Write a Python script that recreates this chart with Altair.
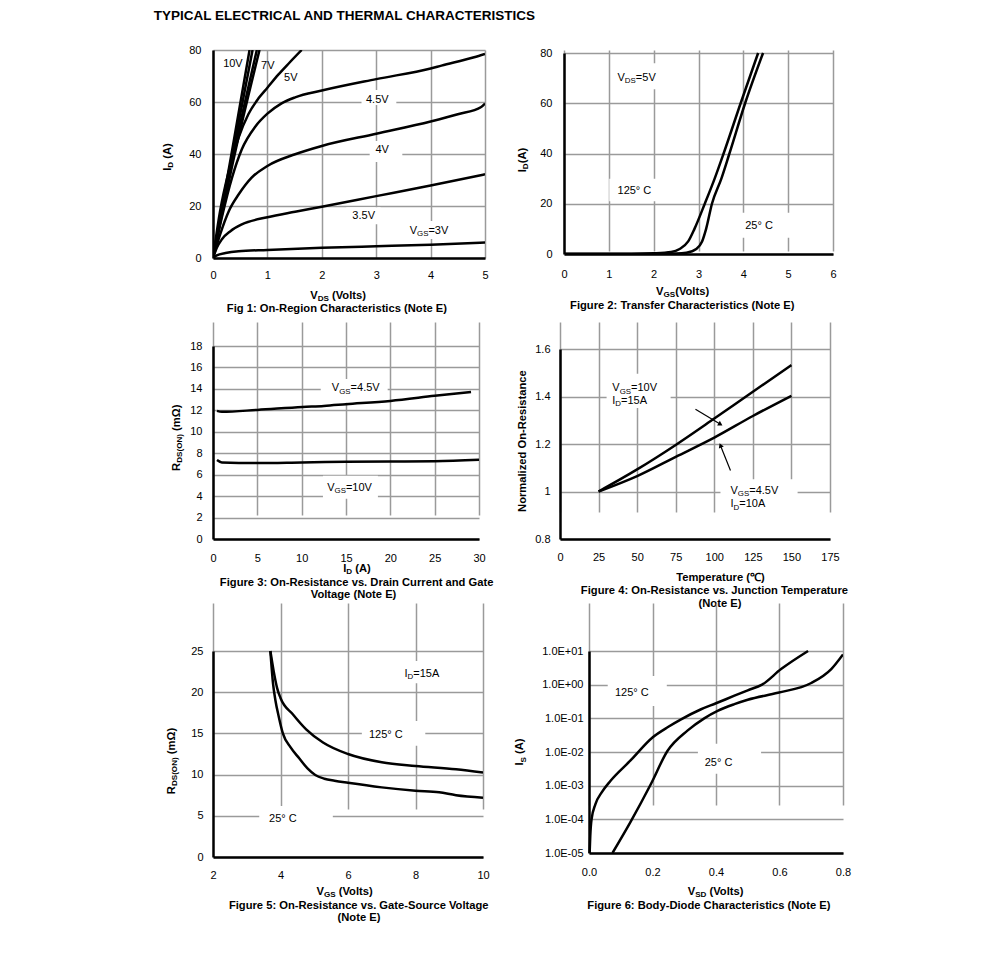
import math
import altair as alt
import pandas as pd

FONT = "Liberation Sans"
GRID = "#9a9a9a"

# ---------------- data ----------------
# Fig 1: On-region characteristics (VDS volts, ID amps)
f1_v_10v = [0, 0.34, 0.672]
f1_i_10v = [0, 40, 80]
f1_v_8v = [0, 0.36, 0.727]
f1_i_8v = [0, 40, 80]
f1_v_7v = [0, 0.38, 0.806]
f1_i_7v = [0, 40, 80]
f1_v_6v = [0, 0.40, 0.855]
f1_i_6v = [0, 40, 80]
f1_v_5v = [0, 0.13, 0.29, 0.47, 0.65, 0.84, 1.0, 1.2, 1.4, 1.63]
f1_i_5v = [0, 18, 33.4, 46.3, 55.3, 61.5, 65.5, 70.5, 75, 80]
f1_v_45v = [0, 0.16, 0.35, 0.53, 0.78, 1.0, 1.26, 1.51, 2.0, 3.0, 4.0, 4.2, 4.8, 5.0]
f1_i_45v = [0, 15.4, 30.9, 41.8, 50.6, 55.5, 59.5, 61.8, 64.4, 68.8, 72.9, 74.0, 77.2, 78.5]
f1_v_4v = [0, 0.13, 0.29, 0.47, 0.71, 1.0, 1.51, 2.0, 3.0, 4.0, 4.5, 4.93, 5.0]
f1_i_4v = [0, 9, 18, 24.4, 30.9, 35.4, 39.9, 43.1, 47.8, 52.5, 55.3, 58.1, 59.4]
f1_v_35v = [0, 0.07, 0.16, 0.32, 0.53, 1.0, 1.51, 2.0, 3.0, 4.0, 5.0]
f1_i_35v = [0, 3.9, 7.1, 10.3, 12.9, 15.7, 17.8, 19.7, 23.8, 27.9, 32.2]
f1_v_3v = [0, 0.07, 0.23, 0.47, 1.0, 2.0, 3.0, 4.0, 5.0]
f1_i_3v = [0, 1.0, 1.9, 2.6, 3.1, 3.9, 4.5, 5.1, 6.0]
f1_xticks = [0, 1, 2, 3, 4, 5]
f1_yticks = [0, 20, 40, 60, 80]

# Fig 2: Transfer characteristics (VGS volts, ID amps)
f2_v_25 = [0, 2.0, 2.5, 2.73, 2.95, 3.08, 3.17, 3.30, 3.51, 3.69, 4.04, 4.44]
f2_i_25 = [0, 0.02, 0.15, 0.5, 2, 5, 10, 20, 30, 40, 60, 80]
f2_v_125 = [0, 1.5, 2.0, 2.39, 2.58, 2.77, 2.91, 3.14, 3.36, 3.56, 3.94, 4.33]
f2_i_125 = [0.05, 0.1, 0.3, 0.8, 2, 5, 10, 20, 30, 40, 60, 80]
f2_xticks = [0, 1, 2, 3, 4, 5, 6]
f2_yticks = [0, 20, 40, 60, 80]

# Fig 3: RDS(ON) vs ID (A, mOhm)
f3_i_45 = [0.45, 1, 5, 10.1, 12.5, 15, 20, 25, 29.1]
f3_r_45 = [11.95, 11.86, 12.04, 12.32, 12.41, 12.57, 12.88, 13.35, 13.72]
f3_i_10 = [0.45, 1, 5, 10, 15, 20, 25, 30]
f3_r_10 = [7.36, 7.14, 7.08, 7.14, 7.2, 7.23, 7.26, 7.39]
f3_xticks = [0, 5, 10, 15, 20, 25, 30]
f3_yticks = [0, 2, 4, 6, 8, 10, 12, 14, 16, 18]

# Fig 4: normalized on-resistance vs temperature
f4_t = [25, 50, 75, 100, 125, 150]
f4_n_10v = [1.0, 1.093, 1.196, 1.307, 1.42, 1.532]
f4_n_45v = [1.0, 1.065, 1.146, 1.227, 1.318, 1.403]
f4_xticks = [0, 25, 50, 75, 100, 125, 150, 175]
f4_yticks = [0.8, 1.0, 1.2, 1.4, 1.6]

# Fig 5: RDS(ON) vs VGS
f5_v_25 = [3.70, 3.78, 3.85, 3.95, 4.07, 4.3, 4.56, 4.8, 5.03, 5.3, 5.6, 6.0, 7.0, 8.0, 8.7, 9.2, 10.0]
f5_r_25 = [25, 21, 19, 17, 15, 13.3, 11.95, 10.75, 9.95, 9.5, 9.25, 9.0, 8.45, 8.05, 7.85, 7.5, 7.2]
f5_v_125 = [3.70, 3.8, 3.9, 4.0, 4.37, 4.76, 5.26, 6.0, 7.0, 8.0, 9.2, 10.0]
f5_r_125 = [25, 22.5, 20.5, 19.3, 17.3, 15.5, 13.9, 12.5, 11.5, 11.05, 10.65, 10.25]
f5_xticks = [2, 4, 6, 8, 10]
f5_yticks = [0, 5, 10, 15, 20, 25]

# Fig 6: body diode (VSD volts, IS amps, log)
f6_v_125 = [0.002, 0.004, 0.008, 0.02, 0.04, 0.068, 0.13, 0.2, 0.25, 0.29, 0.353, 0.4, 0.458, 0.5, 0.545, 0.605, 0.69]
f6_i_125 = [1e-5, 3.2e-5, 1e-4, 2.8e-4, 6.3e-4, 1.4e-3, 5.5e-3, 2.7e-2, 5.6e-2, 9.3e-2, 0.186, 0.28, 0.47, 0.68, 1.0, 2.9, 10]
f6_v_25 = [0.074, 0.13, 0.195, 0.247, 0.31, 0.363, 0.405, 0.458, 0.5, 0.595, 0.70, 0.763, 0.8]
f6_i_25 = [1e-5, 8.1e-5, 1.12e-3, 1.07e-2, 4.3e-2, 0.1, 0.166, 0.263, 0.355, 0.575, 1.12, 2.9, 7.9]
f6_xticks = [0.0, 0.2, 0.4, 0.6, 0.8]
f6_yticks = [1e-5, 1e-4, 1e-3, 1e-2, 1e-1, 1e0, 1e1]
f6_ylabels = ["1.0E-05", "1.0E-04", "1.0E-03", "1.0E-02", "1.0E-01", "1.0E+00", "1.0E+01"]

# ---------------- text helpers ----------------
REG_W = {' ': 278, '(': 333, ')': 333, '-': 333, '.': 278, ':': 278, '=': 584, '+': 584, '°': 400,
         'Ω': 768, '℃': 1000}
BOLD_W = {' ': 278, '(': 333, ')': 333, '-': 333, '.': 278, ':': 333, '=': 584, '+': 584, '°': 400,
          'Ω': 800, '℃': 1000}
for d in '0123456789':
    REG_W[d] = 556
    BOLD_W[d] = 556
REG_W.update(dict(zip("ABCDEFGHIJKLMNOPQRSTUVWXYZ",
                      [667, 667, 722, 722, 667, 611, 778, 722, 278, 500, 667, 556, 833, 722, 778, 667, 778, 722, 667, 611, 722, 667, 944, 667, 667, 611])))
REG_W.update(dict(zip("abcdefghijklmnopqrstuvwxyz",
                      [556, 556, 500, 556, 556, 278, 556, 556, 222, 222, 500, 222, 833, 556, 556, 556, 556, 333, 500, 278, 556, 500, 722, 500, 500, 500])))
BOLD_W.update(dict(zip("ABCDEFGHIJKLMNOPQRSTUVWXYZ",
                       [722, 722, 722, 722, 667, 611, 778, 722, 278, 556, 722, 611, 833, 722, 778, 667, 778, 722, 667, 611, 722, 667, 944, 667, 667, 611])))
BOLD_W.update(dict(zip("abcdefghijklmnopqrstuvwxyz",
                       [556, 611, 556, 611, 556, 333, 611, 611, 278, 278, 556, 278, 889, 611, 611, 611, 611, 389, 556, 333, 611, 556, 778, 556, 556, 500])))


def tw(s, size, bold):
    tbl = BOLD_W if bold else REG_W
    return sum(tbl.get(c, 600) for c in s) * size / 1000.0


def pieces(parts, size, bold, align):
    sub = round(size * 0.72, 1)
    ws = [tw(t, sub if s else size, bold) for t, s in parts]
    total = sum(ws)
    cur = {'center': -total / 2, 'left': 0.0, 'right': -total}[align]
    out = []
    for (t, s), w in zip(parts, ws):
        sz = sub if s else size
        stripped = t.lstrip(' ')
        lead = tw(t[:len(t) - len(stripped)], sz, bold)
        out.append((stripped, s, cur + lead, sz))
        cur += w
    return out


ONE = pd.DataFrame({'k': [0]})


def text_px(parts, x, y, size, bold=True, align='center', angle=0):
    layers = []
    for t, s, off, sz in pieces(parts, size, bold, align):
        shift = size * 0.2 if s else 0
        if angle == 0:
            px, py = x + off, y + shift
        else:
            px, py = x + shift, y - off
        mk = dict(text=t, align='left', baseline='alphabetic', font=FONT, fontSize=sz,
                  fontWeight='bold' if bold else 'normal', color='black')
        if angle:
            mk['angle'] = angle
        layers.append(alt.Chart(ONE).mark_text(**mk).encode(x=alt.value(px), y=alt.value(py)))
    return layers


def make_axis(values, pad, fmt=None, expr=None, offset=None):
    kw = dict(values=values, title=None, grid=True, gridColor=GRID, gridWidth=1.5,
              domain=True, domainColor='black', domainWidth=2.5, ticks=False, tickSize=0,
              labelPadding=pad, labelFlush=False, labelOverlap=False, labelFont=FONT,
              labelFontSize=11, labelColor='black')
    if fmt:
        kw['format'] = fmt
    if expr:
        kw['labelExpr'] = expr
    if offset is not None:
        kw['offset'] = offset
    return alt.Axis(**kw)


def panel(w, h, xs, ys, xa, ya, series, boxes, labels, arrows, px_layers, sx=None, sy=None):
    def enc():
        return dict(x=alt.X('x:Q', scale=xs, axis=xa), y=alt.Y('y:Q', scale=ys, axis=ya))

    layers = []
    if boxes:
        bdf = pd.DataFrame(boxes, columns=['x', 'x2', 'y', 'y2'])
        layers.append(alt.Chart(bdf).mark_rect(color='white').encode(x2='x2:Q', y2='y2:Q', **enc()))
    rows = []
    for name, (xv, yv) in series.items():
        for a, b in zip(xv, yv):
            rows.append({'x': a, 'y': b, 's': name})
    ldf = pd.DataFrame(rows)
    layers.append(alt.Chart(ldf).mark_line(color='black', strokeWidth=2.5, interpolate='monotone',
                                           clip=True).encode(detail='s:N', **enc()))
    for (lx, ly, parts, align) in labels:
        df = pd.DataFrame({'x': [lx], 'y': [ly]})
        for t, s, off, sz in pieces(parts, 11, False, align):
            dy = 0.36 * 11 + (11 * 0.2 if s else 0)
            layers.append(alt.Chart(df).mark_text(text=t, align='left', baseline='alphabetic', dx=off, dy=dy,
                                                  font=FONT, fontSize=sz, color='black').encode(**enc()))
    for (x1, y1, x2, y2) in arrows:
        adf = pd.DataFrame({'x': [x1], 'y': [y1], 'x2': [x2], 'y2': [y2]})
        layers.append(alt.Chart(adf).mark_rule(color='black', strokeWidth=1.2).encode(x2='x2:Q', y2='y2:Q', **enc()))
        dxp = (x2 - x1) * sx
        dyp = -(y2 - y1) * sy
        ang = math.degrees(math.atan2(dxp, -dyp)) % 360
        hdf = pd.DataFrame({'x': [x2], 'y': [y2]})
        layers.append(alt.Chart(hdf).mark_point(shape='triangle-up', filled=True, color='black', size=28,
                                                opacity=1, angle=ang).encode(**enc()))
    layers.extend(px_layers)
    return alt.layer(*layers).properties(width=w, height=h)


# ---------------- panel 1 ----------------
p1 = panel(
    272, 208,
    alt.Scale(domain=[0, 5], range=[0, 272], nice=False, zero=False),
    alt.Scale(domain=[0, 80], range=[208, 0], nice=False, zero=False),
    make_axis(f1_xticks, 11), make_axis(f1_yticks, 12),
    {'10V': (f1_v_10v, f1_i_10v), '8V': (f1_v_8v, f1_i_8v), '7V': (f1_v_7v, f1_i_7v),
     '6V': (f1_v_6v, f1_i_6v), '5V': (f1_v_5v, f1_i_5v), '4.5V': (f1_v_45v, f1_i_45v),
     '4V': (f1_v_4v, f1_i_4v), '3.5V': (f1_v_35v, f1_i_35v), '3V': (f1_v_3v, f1_i_3v)},
    [(2.73, 3.37, 58.8, 64.6), (2.88, 3.48, 36.9, 45), (2.45, 3.08, 13, 19.5), (3.55, 4.41, 7.3, 14.2)],
    [(0.366, 74.8, [("10V", 0)], 'center'), (1.007, 74.2, [("7V", 0)], 'center'),
     (1.43, 69.6, [("5V", 0)], 'center'), (3.02, 61.3, [("4.5V", 0)], 'center'),
     (3.11, 42.1, [("4V", 0)], 'center'), (2.77, 16.5, [("3.5V", 0)], 'center'),
     (3.97, 10.8, [("V", 0), ("GS", 1), ("=3V", 0)], 'center')],
    [],
    text_px([("TYPICAL ELECTRICAL AND THERMAL CHARACTERISTICS", 0)], -59.3, -29.7, 13.5, align='left')
    + text_px([("V", 0), ("DS", 1), (" (Volts)", 0)], 125.5, 249.2, 11.2)
    + text_px([("Fig 1: On-Region Characteristics (Note E)", 0)], 124, 261.8, 11.2)
    + text_px([("I", 0), ("D", 1), (" (A)", 0)], -46 + 4, 107, 11.2, angle=270),
)

# ---------------- panel 2 ----------------
p2 = panel(
    273, 204,
    alt.Scale(domain=[0, 6], range=[4, 273], nice=False, zero=False),
    alt.Scale(domain=[0, 80], range=[204, 3], nice=False, zero=False),
    make_axis(f2_xticks, 14), make_axis(f2_yticks, 12, offset=-4),
    {'25C': (f2_v_25, f2_i_25), '125C': (f2_v_125, f2_i_125)},
    [(1.10, 2.17, 65.6, 75.9), (1.01, 2.17, 21, 30), (3.84, 5.07, 6.5, 16.4)],
    [(1.62, 70.4, [("V", 0), ("DS", 1), ("=5V", 0)], 'center'),
     (1.57, 25.5, [("125° C", 0)], 'center'),
     (4.35, 11.6, [("25° C", 0)], 'center')],
    [],
    text_px([("V", 0), ("GS", 1), ("(Volts)", 0)], 123, 245, 11.2)
    + text_px([("Figure 2: Transfer Characteristics (Note E)", 0)], 122.7, 258.6, 11.2)
    + text_px([("I", 0), ("D", 1), ("(A)", 0)], -38.3 + 4, 110, 11.2, angle=270),
)

# ---------------- panel 3 ----------------
p3 = panel(
    266, 217,
    alt.Scale(domain=[0, 30], range=[0, 266], nice=False, zero=False),
    alt.Scale(domain=[0, 18], range=[217, 24], nice=False, zero=False),
    make_axis(f3_xticks, 13), make_axis(f3_yticks, 11),
    {'4.5V': (f3_i_45, f3_r_45), '10V': (f3_i_10, f3_r_10)},
    [(12.15, 19.7, 12.7, 14.93), (12.4, 18.6, 3.75, 5.9)],
    [(16.1, 14.13, [("V", 0), ("GS", 1), ("=4.5V", 0)], 'center'),
     (15.4, 4.87, [("V", 0), ("GS", 1), ("=10V", 0)], 'center')],
    [],
    text_px([("I", 0), ("D", 1), (" (A)", 0)], 144, 249.8, 11.2)
    + text_px([("Figure 3: On-Resistance vs. Drain Current and Gate", 0)], 143.8, 263.6, 11.2)
    + text_px([("Voltage (Note E)", 0)], 141, 276.2, 11.2)
    + text_px([("R", 0), ("DS(ON)", 1), (" (mΩ)", 0)], -37 + 4, 115.7, 11.2, angle=270),
)

# ---------------- panel 4 ----------------
p4 = panel(
    270, 217,
    alt.Scale(domain=[0, 175], range=[0, 270], nice=False, zero=False),
    alt.Scale(domain=[0.8, 1.6], range=[217, 27], nice=False, zero=False),
    make_axis(f4_xticks, 12), make_axis(f4_yticks, 10, fmt='~g'),
    {'10V': (f4_t, f4_n_10v), '4.5V': (f4_t, f4_n_45v)},
    [(30.2, 71.7, 1.352, 1.496), (104, 154, 0.909, 1.052)],
    [(33.9, 1.438, [("V", 0), ("GS", 1), ("=10V", 0)], 'left'),
     (33.9, 1.384, [("I", 0), ("D", 1), ("=15A", 0)], 'left'),
     (110.5, 1.005, [("V", 0), ("GS", 1), ("=4.5V", 0)], 'left'),
     (110.5, 0.950, [("I", 0), ("D", 1), ("=10A", 0)], 'left')],
    [(87.8, 1.346, 104, 1.283), (110.5, 1.0886, 104, 1.194)],
    text_px([("Temperature (℃)", 0)], 161, 258.5, 11.2)
    + text_px([("Figure 4: On-Resistance vs. Junction Temperature", 0)], 155, 272, 11.2)
    + text_px([("(Note E)", 0)], 160, 284.5, 11.2)
    + text_px([("Normalized On-Resistance", 0)], -38.3 + 4, 119, 11.2, angle=270),
    sx=270 / 175, sy=190 / 0.8,
)

# ---------------- panel 5 ----------------
p5 = panel(
    270, 254,
    alt.Scale(domain=[2, 10], range=[0, 270], nice=False, zero=False),
    alt.Scale(domain=[0, 25], range=[254, 48], nice=False, zero=False),
    make_axis(f5_xticks, 12), make_axis(f5_yticks, 10),
    {'25C': (f5_v_25, f5_r_25), '125C': (f5_v_125, f5_r_125)},
    [(7.55, 8.83, 21.1, 23.8), (6.41, 8.29, 13.5, 16.5), (3.37, 5.55, 3.16, 6.19)],
    [(8.19, 22.3, [("I", 0), ("D", 1), ("=15A", 0)], 'center'),
     (7.12, 14.9, [("125° C", 0)], 'center'),
     (4.07, 4.73, [("25° C", 0)], 'center')],
    [],
    text_px([("V", 0), ("GS", 1), (" (Volts)", 0)], 132, 291.5, 11.2)
    + text_px([("Figure 5: On-Resistance vs. Gate-Source Voltage", 0)], 146.3, 305.5, 11.2)
    + text_px([("(Note E)", 0)], 146, 317.8, 11.2)
    + text_px([("R", 0), ("DS(ON)", 1), (" (mΩ)", 0)], -42 + 4, 158, 11.2, angle=270),
)

# ---------------- panel 6 ----------------
f6_expr = "[" + ",".join("'%s'" % s for s in f6_ylabels) + "][round(log(datum.value)/LN10)+5]"
p6 = panel(
    283, 250,
    alt.Scale(domain=[0, 0.8], range=[29, 283], nice=False, zero=False),
    alt.Scale(type='log', domain=[1e-5, 10], range=[250, 48], nice=False),
    make_axis(f6_xticks, 13, fmt='.1f'), make_axis(f6_yticks, 6, expr=f6_expr, offset=-29),
    {'25C': (f6_v_25, f6_i_25), '125C': (f6_v_125, f6_i_125)},
    [(0.059, 0.245, 0.234, 1.82), (0.343, 0.542, 0.00225, 0.0175)],
    [(0.135, 0.61, [("125° C", 0)], 'center'),
     (0.408, 0.00513, [("25° C", 0)], 'center')],
    [],
    text_px([("V", 0), ("SD", 1), (" (Volts)", 0)], 156, 291.5, 11.2)
    + text_px([("Figure 6: Body-Diode Characteristics (Note E)", 0)], 149, 305.7, 11.2)
    + text_px([("I", 0), ("S", 1), (" (A)", 0)], -40.7 + 4, 149, 11.2, angle=270),
)

chart = alt.concat(
    p1, p2, p3, p4, p5, p6,
    columns=2, spacing={"row": 64, "column": 75}, bounds="flush"
).properties(
    padding={"left": 145, "top": 1, "right": 5, "bottom": 5}
).configure_view(stroke=None)

chart.save("out.html", embed_options={"renderer": "svg", "actions": False})
